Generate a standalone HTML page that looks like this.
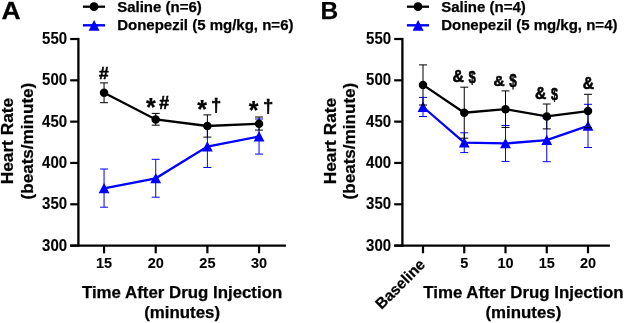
<!DOCTYPE html>
<html><head><meta charset="utf-8"><style>
html,body{margin:0;padding:0;background:#fff;width:625px;height:323px;overflow:hidden}
svg{display:block;will-change:transform}
.b{font-family:"Liberation Sans",sans-serif;font-weight:bold;fill:#000;stroke:#000;stroke-width:0.25px}
.n{stroke-width:0.1px}
.g{stroke-width:0.55px}
</style></head><body>
<svg width="625" height="323" viewBox="0 0 625 323">
<text transform="translate(1.4,19.3) scale(1.08,1)" font-size="24.5" class="b">A</text>
<line x1="82.9" y1="6.7" x2="105" y2="6.7" stroke="#000" stroke-width="2.3"/>
<circle cx="94" cy="6.7" r="4.4" fill="#000"/>
<text x="117.2" y="11.8" font-size="15" class="b">Saline (n=6)</text>
<line x1="82.9" y1="25.3" x2="105" y2="25.3" stroke="#00f" stroke-width="2.4"/>
<path d="M94.1 20.1 L99.6 30.7 L88.6 30.7 Z" fill="#00f"/>
<text x="117.2" y="30.1" font-size="15" class="b">Donepezil (5 mg/kg, n=6)</text>
<line x1="78.4" y1="37.9" x2="78.4" y2="246.7" stroke="#000" stroke-width="2.3"/>
<line x1="70.2" y1="245.60" x2="78.4" y2="245.60" stroke="#000" stroke-width="2.2"/>
<text transform="translate(67.1,250.60) scale(1,1.04)" font-size="15" class="b n" text-anchor="end">300</text>
<line x1="70.2" y1="204.28" x2="78.4" y2="204.28" stroke="#000" stroke-width="2.2"/>
<text transform="translate(67.1,209.28) scale(1,1.04)" font-size="15" class="b n" text-anchor="end">350</text>
<line x1="70.2" y1="162.96" x2="78.4" y2="162.96" stroke="#000" stroke-width="2.2"/>
<text transform="translate(67.1,167.96) scale(1,1.04)" font-size="15" class="b n" text-anchor="end">400</text>
<line x1="70.2" y1="121.64" x2="78.4" y2="121.64" stroke="#000" stroke-width="2.2"/>
<text transform="translate(67.1,126.64) scale(1,1.04)" font-size="15" class="b n" text-anchor="end">450</text>
<line x1="70.2" y1="80.32" x2="78.4" y2="80.32" stroke="#000" stroke-width="2.2"/>
<text transform="translate(67.1,85.32) scale(1,1.04)" font-size="15" class="b n" text-anchor="end">500</text>
<line x1="70.2" y1="39.00" x2="78.4" y2="39.00" stroke="#000" stroke-width="2.2"/>
<text transform="translate(67.1,44.00) scale(1,1.04)" font-size="15" class="b n" text-anchor="end">550</text>
<line x1="70.2" y1="245.6" x2="285.9" y2="245.6" stroke="#000" stroke-width="2.3"/>
<line x1="104.05" y1="245.6" x2="104.05" y2="253.3" stroke="#000" stroke-width="2.2"/>
<text transform="translate(104.05,268.3) scale(1,1.06)" font-size="14.5" class="b n" text-anchor="middle">15</text>
<line x1="155.72" y1="245.6" x2="155.72" y2="253.3" stroke="#000" stroke-width="2.2"/>
<text transform="translate(155.72,268.3) scale(1,1.06)" font-size="14.5" class="b n" text-anchor="middle">20</text>
<line x1="207.38" y1="245.6" x2="207.38" y2="253.3" stroke="#000" stroke-width="2.2"/>
<text transform="translate(207.38,268.3) scale(1,1.06)" font-size="14.5" class="b n" text-anchor="middle">25</text>
<line x1="259.05" y1="245.6" x2="259.05" y2="253.3" stroke="#000" stroke-width="2.2"/>
<text transform="translate(259.05,268.3) scale(1,1.06)" font-size="14.5" class="b n" text-anchor="middle">30</text>
<text transform="translate(13.4,141.1) rotate(-90)" font-size="17.3" class="b" text-anchor="middle">Heart Rate</text>
<text transform="translate(32.6,141.1) rotate(-90)" font-size="17.1" class="b" text-anchor="middle">(beats/minute)</text>
<text x="182.1" y="297.9" font-size="16.85" class="b" text-anchor="middle">Time After Drug Injection</text>
<text x="182.1" y="317.5" font-size="16.85" class="b" text-anchor="middle">(minutes)</text>
<path d="M104.05 169.00 V207.20 M100.05 169.00 H108.05 M100.05 207.20 H108.05" stroke="#00f" stroke-width="1" fill="none"/>
<path d="M155.72 159.30 V197.20 M151.72 159.30 H159.72 M151.72 197.20 H159.72" stroke="#00f" stroke-width="1" fill="none"/>
<path d="M207.38 125.70 V167.50 M203.38 125.70 H211.38 M203.38 167.50 H211.38" stroke="#00f" stroke-width="1" fill="none"/>
<path d="M259.05 119.00 V154.10 M255.05 119.00 H263.05 M255.05 154.10 H263.05" stroke="#00f" stroke-width="1" fill="none"/>
<path d="M104.05 188.30 L155.72 178.30 L207.38 146.60 L259.05 136.50" stroke="#00f" stroke-width="2.3" fill="none"/>
<path d="M104.05 182.90 L109.45 193.20 L98.65 193.20 Z" fill="#00f"/>
<path d="M155.72 172.90 L161.12 183.20 L150.32 183.20 Z" fill="#00f"/>
<path d="M207.38 141.20 L212.78 151.50 L201.98 151.50 Z" fill="#00f"/>
<path d="M259.05 131.10 L264.45 141.40 L253.65 141.40 Z" fill="#00f"/>
<path d="M104.05 82.90 V102.70 M100.05 82.90 H108.05 M100.05 102.70 H108.05" stroke="#000" stroke-width="1" fill="none"/>
<path d="M155.72 113.40 V125.20 M151.72 113.40 H159.72 M151.72 125.20 H159.72" stroke="#000" stroke-width="1" fill="none"/>
<path d="M207.38 114.90 V137.10 M203.38 114.90 H211.38 M203.38 137.10 H211.38" stroke="#000" stroke-width="1" fill="none"/>
<path d="M259.05 117.00 V130.10 M255.05 117.00 H263.05 M255.05 130.10 H263.05" stroke="#000" stroke-width="1" fill="none"/>
<path d="M104.05 92.80 L155.72 119.50 L207.38 126.00 L259.05 123.70" stroke="#000" stroke-width="2.3" fill="none"/>
<circle cx="104.05" cy="92.80" r="4.25" fill="#000"/>
<circle cx="155.72" cy="119.50" r="4.25" fill="#000"/>
<circle cx="207.38" cy="126.00" r="4.25" fill="#000"/>
<circle cx="259.05" cy="123.70" r="4.25" fill="#000"/>
<text x="99.08" y="78.62" font-size="17.25" class="b g">#</text>
<text x="146.05" y="116.40" font-size="24.97" class="b">*</text>
<text x="159.17" y="109.35" font-size="17.73" class="b g">#</text>
<text x="197.25" y="118.20" font-size="24.97" class="b">*</text>
<text x="211.04" y="111.34" font-size="18.43" class="b g">†</text>
<text x="248.75" y="119.39" font-size="24.95" class="b">*</text>
<text x="263.04" y="112.09" font-size="18.50" class="b g">†</text>
<text transform="translate(320.4,19.3) scale(1.0,1)" font-size="24.5" class="b">B</text>
<line x1="406.9" y1="6.7" x2="429" y2="6.7" stroke="#000" stroke-width="2.3"/>
<circle cx="418" cy="6.7" r="4.4" fill="#000"/>
<text x="441.2" y="11.8" font-size="15" class="b">Saline (n=4)</text>
<line x1="406.9" y1="25.3" x2="429" y2="25.3" stroke="#00f" stroke-width="2.4"/>
<path d="M418.1 20.1 L423.6 30.7 L412.6 30.7 Z" fill="#00f"/>
<text x="441.2" y="30.1" font-size="15" class="b">Donepezil (5 mg/kg, n=4)</text>
<line x1="402.4" y1="37.9" x2="402.4" y2="246.7" stroke="#000" stroke-width="2.3"/>
<line x1="394.2" y1="245.60" x2="402.4" y2="245.60" stroke="#000" stroke-width="2.2"/>
<text transform="translate(391.1,250.60) scale(1,1.04)" font-size="15" class="b n" text-anchor="end">300</text>
<line x1="394.2" y1="204.28" x2="402.4" y2="204.28" stroke="#000" stroke-width="2.2"/>
<text transform="translate(391.1,209.28) scale(1,1.04)" font-size="15" class="b n" text-anchor="end">350</text>
<line x1="394.2" y1="162.96" x2="402.4" y2="162.96" stroke="#000" stroke-width="2.2"/>
<text transform="translate(391.1,167.96) scale(1,1.04)" font-size="15" class="b n" text-anchor="end">400</text>
<line x1="394.2" y1="121.64" x2="402.4" y2="121.64" stroke="#000" stroke-width="2.2"/>
<text transform="translate(391.1,126.64) scale(1,1.04)" font-size="15" class="b n" text-anchor="end">450</text>
<line x1="394.2" y1="80.32" x2="402.4" y2="80.32" stroke="#000" stroke-width="2.2"/>
<text transform="translate(391.1,85.32) scale(1,1.04)" font-size="15" class="b n" text-anchor="end">500</text>
<line x1="394.2" y1="39.00" x2="402.4" y2="39.00" stroke="#000" stroke-width="2.2"/>
<text transform="translate(391.1,44.00) scale(1,1.04)" font-size="15" class="b n" text-anchor="end">550</text>
<line x1="394.2" y1="245.6" x2="609.9" y2="245.6" stroke="#000" stroke-width="2.3"/>
<line x1="423" y1="245.6" x2="423" y2="253.3" stroke="#000" stroke-width="2.2"/>
<text transform="translate(426.1,265.5) rotate(-45)" font-size="15.3" class="b" text-anchor="end">Baseline</text>
<line x1="464.25" y1="245.6" x2="464.25" y2="253.3" stroke="#000" stroke-width="2.2"/>
<text transform="translate(464.25,268.3) scale(1,1.06)" font-size="14.5" class="b n" text-anchor="middle">5</text>
<line x1="505.5" y1="245.6" x2="505.5" y2="253.3" stroke="#000" stroke-width="2.2"/>
<text transform="translate(505.5,268.3) scale(1,1.06)" font-size="14.5" class="b n" text-anchor="middle">10</text>
<line x1="546.75" y1="245.6" x2="546.75" y2="253.3" stroke="#000" stroke-width="2.2"/>
<text transform="translate(546.75,268.3) scale(1,1.06)" font-size="14.5" class="b n" text-anchor="middle">15</text>
<line x1="588" y1="245.6" x2="588" y2="253.3" stroke="#000" stroke-width="2.2"/>
<text transform="translate(588,268.3) scale(1,1.06)" font-size="14.5" class="b n" text-anchor="middle">20</text>
<text transform="translate(336.0,141.1) rotate(-90)" font-size="17.3" class="b" text-anchor="middle">Heart Rate</text>
<text transform="translate(355.20000000000005,141.1) rotate(-90)" font-size="17.1" class="b" text-anchor="middle">(beats/minute)</text>
<text x="523.4" y="297.9" font-size="16.85" class="b" text-anchor="middle">Time After Drug Injection</text>
<text x="523.4" y="317.5" font-size="16.85" class="b" text-anchor="middle">(minutes)</text>
<path d="M423.00 97.40 V116.50 M419.00 97.40 H427.00 M419.00 116.50 H427.00" stroke="#00f" stroke-width="1" fill="none"/>
<path d="M464.25 132.80 V152.60 M460.25 132.80 H468.25 M460.25 152.60 H468.25" stroke="#00f" stroke-width="1" fill="none"/>
<path d="M505.50 125.50 V161.40 M501.50 125.50 H509.50 M501.50 161.40 H509.50" stroke="#00f" stroke-width="1" fill="none"/>
<path d="M546.75 118.40 V161.70 M542.75 118.40 H550.75 M542.75 161.70 H550.75" stroke="#00f" stroke-width="1" fill="none"/>
<path d="M588.00 104.30 V147.50 M584.00 104.30 H592.00 M584.00 147.50 H592.00" stroke="#00f" stroke-width="1" fill="none"/>
<path d="M423.00 107.00 L464.25 142.70 L505.50 143.45 L546.75 140.05 L588.00 125.80" stroke="#00f" stroke-width="2.3" fill="none"/>
<path d="M423.00 101.60 L428.40 111.90 L417.60 111.90 Z" fill="#00f"/>
<path d="M464.25 137.30 L469.65 147.60 L458.85 147.60 Z" fill="#00f"/>
<path d="M505.50 138.05 L510.90 148.35 L500.10 148.35 Z" fill="#00f"/>
<path d="M546.75 134.65 L552.15 144.95 L541.35 144.95 Z" fill="#00f"/>
<path d="M588.00 120.40 L593.40 130.70 L582.60 130.70 Z" fill="#00f"/>
<path d="M423.00 64.90 V105.00 M419.00 64.90 H427.00 M419.00 105.00 H427.00" stroke="#000" stroke-width="1" fill="none"/>
<path d="M464.25 87.20 V138.20 M460.25 87.20 H468.25 M460.25 138.20 H468.25" stroke="#000" stroke-width="1" fill="none"/>
<path d="M505.50 90.90 V127.40 M501.50 90.90 H509.50 M501.50 127.40 H509.50" stroke="#000" stroke-width="1" fill="none"/>
<path d="M546.75 104.00 V128.90 M542.75 104.00 H550.75 M542.75 128.90 H550.75" stroke="#000" stroke-width="1" fill="none"/>
<path d="M588.00 94.30 V127.80 M584.00 94.30 H592.00 M584.00 127.80 H592.00" stroke="#000" stroke-width="1" fill="none"/>
<path d="M423.00 84.90 L464.25 112.70 L505.50 109.15 L546.75 116.45 L588.00 111.05" stroke="#000" stroke-width="2.3" fill="none"/>
<circle cx="423.00" cy="84.90" r="4.25" fill="#000"/>
<circle cx="464.25" cy="112.70" r="4.25" fill="#000"/>
<circle cx="505.50" cy="109.15" r="4.25" fill="#000"/>
<circle cx="546.75" cy="116.45" r="4.25" fill="#000"/>
<circle cx="588.00" cy="111.05" r="4.25" fill="#000"/>
<text x="452.58" y="81.66" font-size="15.87" class="b g">&amp;</text>
<text transform="translate(468.40,82.74) scale(0.758,1)" font-size="17.34" class="b g">$</text>
<text x="493.59" y="86.40" font-size="15.50" class="b g">&amp;</text>
<text transform="translate(509.20,87.41) scale(0.758,1)" font-size="17.83" class="b g">$</text>
<text x="534.98" y="99.26" font-size="15.73" class="b g">&amp;</text>
<text transform="translate(550.91,99.78) scale(0.746,1)" font-size="16.85" class="b g">$</text>
<text x="582.79" y="88.90" font-size="15.64" class="b g">&amp;</text>
</svg></body></html>
